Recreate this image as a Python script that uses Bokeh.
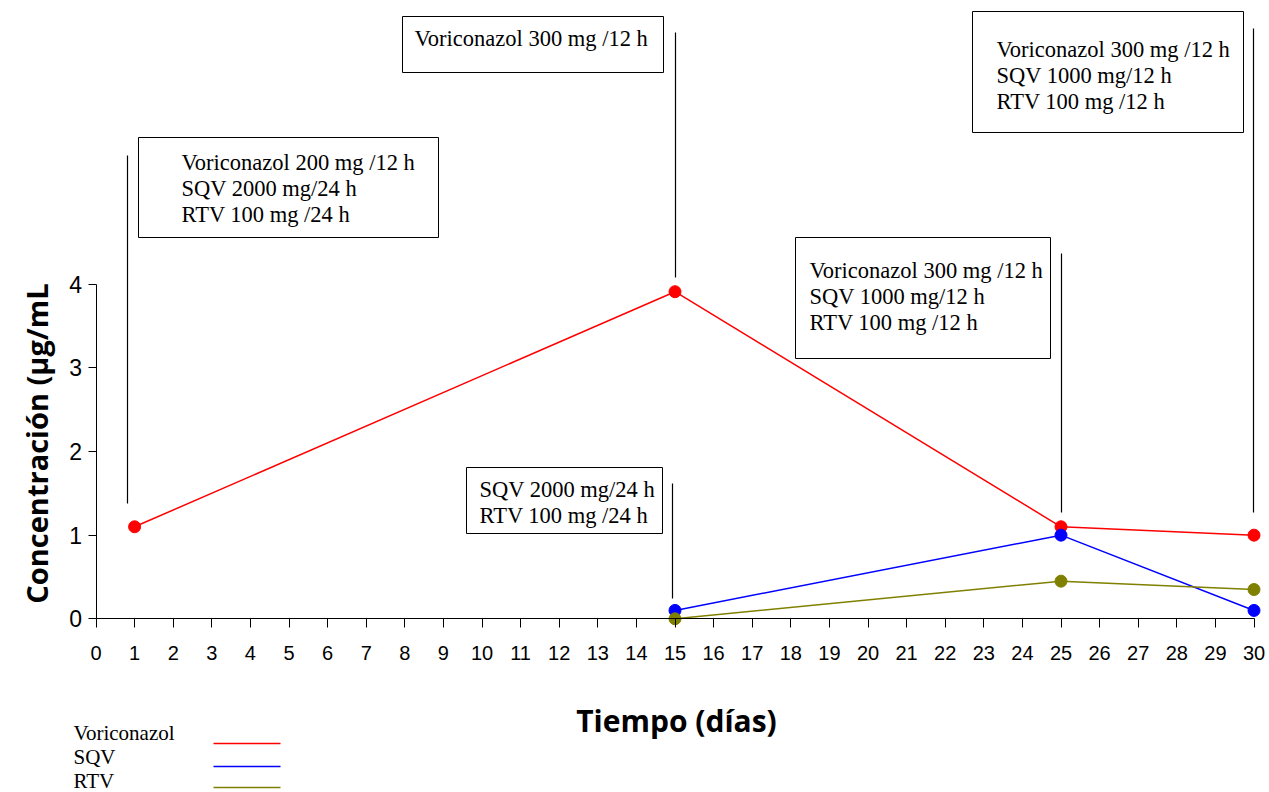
from bokeh.plotting import figure
from bokeh.models import LinearAxis, FixedTicker, ColumnDataSource
from bokeh.core.properties import value
from bokeh.embed import file_html
from bokeh.resources import INLINE

# ---------------- data ----------------
days = [1, 15, 25, 30]
voriconazol = [1.1, 3.91, 1.1, 1.0]
sqv_days = [15, 25, 30]
sqv = [0.1, 1.0, 0.1]
rtv_days = [15, 25, 30]
rtv = [0.0, 0.45, 0.35]

x_ticks = list(range(0, 31))
y_ticks = [0, 1, 2, 3, 4]

series_names = ["Voriconazol", "SQV", "RTV"]
series_colors = ["#ff0000", "#0000ff", "#808000"]

annot_texts = [
    ["Voriconazol 200 mg /12 h", "SQV 2000 mg/24 h", "RTV 100 mg /24 h"],
    ["Voriconazol 300 mg /12 h"],
    ["Voriconazol 300 mg /12 h", "SQV 1000 mg/12 h", "RTV 100 mg /12 h"],
    ["Voriconazol 300 mg /12 h", "SQV 1000 mg/12 h", "RTV 100 mg /12 h"],
    ["SQV 2000 mg/24 h", "RTV 100 mg /24 h"],
]

# ---------------- layout (pixels of the picture) ----------------
W, H = 1269, 792
X0_PX, X_PER = 95.5, 38.6      # x pixel of day 0, px per day
Y0_PX, Y_PER = 618.3, 83.65    # y pixel of conc 0, px per unit

def dx(px):
    return (px - X0_PX) / X_PER

def dy(py):
    return (Y0_PX - py) / Y_PER

# box geometry: left, right, top, bottom, text-left, first line center
boxes = [
    (138, 438, 137, 237, 181, 162),
    (402, 663, 16, 72, 414, 38),
    (972, 1243, 11, 132, 996, 49),
    (795, 1050, 237, 358, 809, 270),
    (466, 662, 467, 533, 479, 489),
]
LINE_STEP = 26
# leader lines: x, top, bottom
leaders = [
    (127, 155, 503),
    (675, 32, 277),
    (1253, 28, 512),
    (1061, 253, 512),
    (672, 483, 598),
]

p = figure(width=W, height=H, output_backend="svg", toolbar_location=None,
           title=None, min_border=0,
           x_range=(dx(0), dx(W)), y_range=(dy(H), dy(0)),
           x_axis_location=None, y_axis_location=None)
p.outline_line_color = None
p.background_fill_color = "white"
p.border_fill_color = "white"
for g in p.grid:
    g.visible = False

# axes
xaxis = LinearAxis(fixed_location=0, bounds=(0, 30),
                   ticker=FixedTicker(ticks=x_ticks))
xaxis.minor_tick_line_color = None
xaxis.major_tick_in = 0
xaxis.major_tick_out = 9
xaxis.major_label_standoff = 18
xaxis.major_label_text_font = "Liberation Sans"
xaxis.major_label_text_font_size = "20px"
xaxis.major_label_text_color = "black"
xaxis.axis_line_color = "black"
xaxis.major_tick_line_color = "black"
p.add_layout(xaxis, "below")

yaxis = LinearAxis(fixed_location=0, bounds=(0, 4),
                   ticker=FixedTicker(ticks=y_ticks))
yaxis.minor_tick_line_color = None
yaxis.major_tick_in = 0
yaxis.major_tick_out = 8
yaxis.major_label_standoff = 6
yaxis.major_label_text_font = "Liberation Sans"
yaxis.major_label_text_font_size = "23px"
yaxis.major_label_text_color = "black"
yaxis.axis_line_color = "black"
yaxis.major_tick_line_color = "black"
p.add_layout(yaxis, "left")

# leader lines
p.segment(x0=[dx(l[0]) for l in leaders], x1=[dx(l[0]) for l in leaders],
          y0=[dy(l[1]) for l in leaders], y1=[dy(l[2]) for l in leaders],
          line_color="black", line_width=1.2)

# annotation boxes
p.quad(left=[dx(b[0]) for b in boxes], right=[dx(b[1]) for b in boxes],
       top=[dy(b[2]) for b in boxes], bottom=[dy(b[3]) for b in boxes],
       fill_color="white", line_color="black", line_width=1)
tx, ty, tt = [], [], []
for b, lines in zip(boxes, annot_texts):
    for i, t in enumerate(lines):
        tx.append(dx(b[4]))
        ty.append(dy(b[5] + i * LINE_STEP))
        tt.append(t)
p.text(x=tx, y=ty, text=tt, text_font=value("Liberation Serif"),
       text_font_size="22.5px", text_baseline="middle", text_align="left",
       text_color="black")

# data series
for xs, ys, c in [(days, voriconazol, series_colors[0]),
                  (sqv_days, sqv, series_colors[1]),
                  (rtv_days, rtv, series_colors[2])]:
    src = ColumnDataSource(dict(x=xs, y=ys))
    p.line("x", "y", source=src, line_color=c, line_width=1.5)
    p.scatter("x", "y", source=src, size=12, fill_color=c, line_color=c)

# axis titles
p.text(x=[dx(676)], y=[dy(720)], text=["Tiempo (días)"],
       text_font=value("Open Sans"), text_font_style="bold",
       text_font_size="30px", text_align="center", text_baseline="middle",
       text_color="black")
p.text(x=[dx(36)], y=[dy(443)], text=["Concentración (µg/mL"], angle=1.5707963,
       text_font=value("Open Sans"), text_font_style="bold",
       text_font_size="29px", text_align="center", text_baseline="middle",
       text_color="black")

# manual legend (label left, line right)
leg_text_y = [732, 756, 780]
leg_line_y = [743, 766, 787]
p.text(x=[dx(73)] * 3, y=[dy(v) for v in leg_text_y], text=series_names,
       text_font=value("Liberation Serif"), text_font_size="21px",
       text_baseline="middle", text_align="left", text_color="black")
p.segment(x0=[dx(213)] * 3, x1=[dx(280)] * 3,
          y0=[dy(v) for v in leg_line_y], y1=[dy(v) for v in leg_line_y],
          line_color=series_colors, line_width=1.5)

open("out.html", "w").write(file_html(p, INLINE))
